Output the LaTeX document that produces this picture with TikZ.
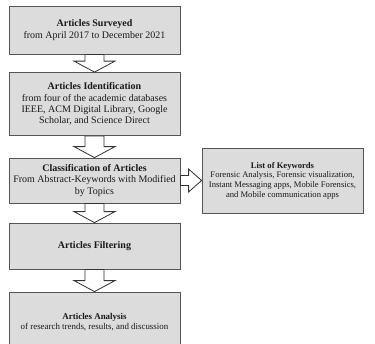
\documentclass[tikz,border=0pt]{standalone}
\usepackage{fontspec}
\setmainfont{Liberation Serif}
\usetikzlibrary{calc}
\definecolor{boxfill}{HTML}{DCDCDC}
\definecolor{boxline}{HTML}{555555}
\tikzset{
  stagebox/.style={draw=boxline, line width=0.8pt, fill=boxfill, align=center,
    inner sep=2pt, font=\fontsize{10}{11.3}\selectfont, text=black!90},
  smallbox/.style={stagebox, font=\fontsize{8.6}{9.6}\selectfont},
  midbox/.style={stagebox, font=\fontsize{8.9}{10.6}\selectfont},
  blockarr/.style={draw=black!80, line width=0.8pt, fill=white, line join=miter},
}
\newcommand{\varr}[2]{%
  \path[blockarr] let \p1=(#1.south), \p2=(#2.north) in
    ({\x1-9.5pt},{\y1}) -- ({\x1-9.5pt},{\y2+11pt}) -- ({\x1-20.5pt},{\y2+11pt}) --
    ({\x1},{\y2}) -- ({\x1+20.5pt},{\y2+11pt}) -- ({\x1+9.5pt},{\y2+11pt}) --
    ({\x1+9.5pt},{\y1}) -- cycle;}
\begin{document}
\begin{tikzpicture}[x=1pt,y=-1pt]
\useasboundingbox (0,0) rectangle (375,343);
\begin{scope}
\clip (0,0) rectangle (375,343);
\node[stagebox, minimum width=171pt, minimum height=48pt] (s1) at (94.5,30)
  {\textbf{Articles Surveyed}\\from April 2017 to December 2021};
\node[stagebox, minimum width=171pt, minimum height=63pt] (s2) at (94.5,104)
  {\textbf{Articles Identification}\\from four of the academic databases\\IEEE, ACM Digital Library, Google\\Scholar, and Science Direct};
\node[stagebox, minimum width=171pt, minimum height=45pt] (s3) at (94.5,180.5)
  {\textbf{Classification of Articles}\\From Abstract-Keywords with Modified\\by Topics};
\node[stagebox, minimum width=171pt, minimum height=46pt] (s4) at (94.5,246)
  {\textbf{Articles Filtering}};
\node[midbox, minimum width=171pt, minimum height=60pt] (s5) at (94.5,322)
  {\textbf{Articles Analysis}\\of research trends, results, and discussion};
\node[smallbox, minimum width=161pt, minimum height=65pt] (kw) at (282.5,180.5)
  {\textbf{List of Keywords}\\Forensic Analysis, Forensic visualization,\\Instant Messaging apps, Mobile Forensics,\\and Mobile communication apps};
\varr{s1}{s2}
\varr{s2}{s3}
\varr{s3}{s4}
\varr{s4}{s5}
\path[blockarr] let \p1=(s3.east), \p2=(kw.west) in
  ({\x1},{\y1-5pt}) -- ({\x2-13pt},{\y1-5pt}) -- ({\x2-13pt},{\y1-11.5pt}) --
  ({\x2},{\y1}) -- ({\x2-13pt},{\y1+11.5pt}) -- ({\x2-13pt},{\y1+5pt}) --
  ({\x1},{\y1+5pt}) -- cycle;
\end{scope}
\end{tikzpicture}
\end{document}
